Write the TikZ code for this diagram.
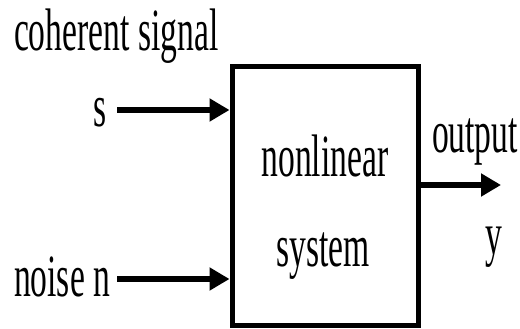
\documentclass[tikz,border=0pt]{standalone}
\usepackage{fontspec}
\setmainfont{Liberation Serif}
\usetikzlibrary{arrows.meta}
\tikzset{
  lbl/.style={inner sep=0pt, outer sep=0pt, font=\fontsize{60}{72}\selectfont},
  arr/.style={line width=6pt, -{Triangle[length=20pt,width=22pt]}},
  sysbox/.style={draw, line width=5pt, minimum width=186pt, minimum height=258pt, inner sep=0pt}
}
\newcommand{\sq}[1]{\scalebox{0.56}[1]{#1}}
\begin{document}
\begin{tikzpicture}[x=1pt,y=-1pt]
\useasboundingbox (0,0) rectangle (520,329);
\node[sysbox] (sys) at (325,196) {};
\node[lbl, anchor=base west] (coh) at (14,51) {\sq{coherent signal}};
\node[lbl, anchor=base east] (s) at (107,126) {\sq{s}};
\node[lbl, anchor=base west] (noise) at (14,296) {\sq{noise n}};
\node[lbl, anchor=base] (nl) at (325,176) {\sq{nonlinear}};
\node[lbl, anchor=base] (sy) at (323,266) {\sq{system}};
\node[lbl, anchor=base west] (out) at (432,153) {\sq{output}};
\node[lbl, anchor=base] (y) at (494,254) {\sq{y}};
\coordinate (sin) at (117,110);
\coordinate (nin) at (117,279);
\coordinate (yout) at (501,185);
\draw[arr] (sin) -- (sin -| sys.west);
\draw[arr] (nin) -- (nin -| sys.west);
\draw[arr] (yout -| sys.east) -- (yout);
\end{tikzpicture}
\end{document}
